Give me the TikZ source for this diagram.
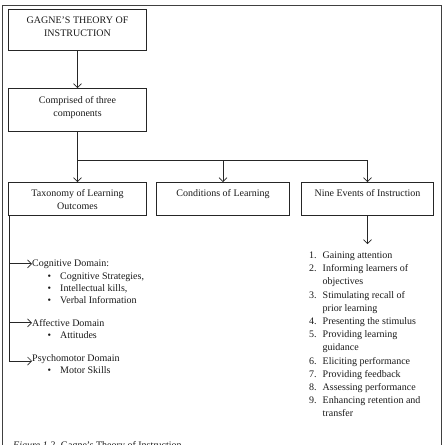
\documentclass[tikz,border=0pt]{standalone}
\usepackage{fontspec}
\setmainfont{Liberation Serif}
\usetikzlibrary{arrows.meta}
\begin{document}
\begin{tikzpicture}[x=1pt,y=-1pt,
  font=\fontsize{10}{13.2}\selectfont,
  every node/.style={text=black!90},
  box/.style={draw=black!85, line width=0.7pt, inner sep=0pt},
  txt/.style={inner sep=0pt, align=center},
  lbl/.style={inner sep=0pt, anchor=base west},
  arr/.style={draw=black!85, -{Straight Barb[length=4pt,width=8pt]}, line width=0.7pt},
  ln/.style={draw=black!85, line width=0.7pt}]
\useasboundingbox (0,0) rectangle (443,445);
\clip (0,0) rectangle (443,445);
% outer frame
\draw[draw=black!75, line width=0.9pt] (2,470) -- (2,5) -- (441,5) -- (441,470);
% boxes
\node[box, minimum width=138pt, minimum height=41pt] (b1) at (77.5,29.5) {};
\node[txt] (t1) at (77.5,26.7) {GAGNE'S THEORY OF\\INSTRUCTION};
\node[box, minimum width=138pt, minimum height=42.5pt] (b2) at (77.5,109.75) {};
\node[txt] (t2) at (77.5,107.3) {Comprised of three\\components};
\node[box, minimum width=137.5pt, minimum height=33pt] (bA) at (77.5,199) {};
\node[txt] (tA) at (77.5,199.7) {Taxonomy of Learning\\Outcomes};
\node[box, minimum width=132.6pt, minimum height=33pt] (bB) at (223,199) {};
\node[txt, anchor=base] (tB) at (223,196.5) {Conditions of Learning};
\node[box, minimum width=132.3pt, minimum height=33pt] (bC) at (367.5,199) {};
\node[txt, anchor=base] (tC) at (367.5,196.5) {Nine Events of Instruction};
% connectors
\draw[arr] (b1) -- (b2);
\coordinate (j) at (77.5,160.5);
\draw[ln] (b2.south) -- (j);
\draw[ln] (j) -- (j -| bC.north);
\draw[arr] (j) -- (bA.north);
\draw[arr] (j -| bB.north) -- (bB.north);
\draw[arr] (j -| bC.north) -- (bC.north);
% left list
\node[lbl] (cog) at (32,266) {Cognitive Domain:};
\node[lbl] (cs) at (60,279) {\llap{\textbullet\hspace{9pt}}Cognitive Strategies,};
\node[lbl] (ik) at (60,291.3) {\llap{\textbullet\hspace{9pt}}Intellectual kills,};
\node[lbl] (vi) at (60,303.6) {\llap{\textbullet\hspace{9pt}}Verbal Information};
\node[lbl] (aff) at (32,326.3) {Affective Domain};
\node[lbl] (att) at (60,338.6) {\llap{\textbullet\hspace{9pt}}Attitudes};
\node[lbl] (psy) at (32,361.5) {Psychomotor Domain};
\node[lbl] (ms) at (60,373.8) {\llap{\textbullet\hspace{9pt}}Motor Skills};
\coordinate (lt) at (9,215.5);
\coordinate (pe) at (9,361);
\draw[ln] (lt) -- (pe);
\draw[arr] (pe) -- (psy.west |- pe);
\draw[arr] (lt |- cog.west) -- (cog.west);
\draw[arr] (lt |- aff.west) -- (aff.west);
% right list
\coordinate (ct) at (367.5,244);
\draw[arr] (bC.south) -- (ct);
\node[inner sep=0pt, anchor=north west] (nine) at (309,249) {%
\begin{tabular}{@{}r@{\hspace{6pt}}l@{}}
1. & Gaining attention\\
2. & Informing learners of\\
   & objectives\\
3. & Stimulating recall of\\
   & prior learning\\
4. & Presenting the stimulus\\
5. & Providing learning\\
   & guidance\\
6. & Eliciting performance\\
7. & Providing feedback\\
8. & Assessing performance\\
9. & Enhancing retention and\\
   & transfer
\end{tabular}};
% caption
\node[lbl] (cap) at (13,448) {\textit{Figure 1.2.} Gagne's Theory of Instruction};
\end{tikzpicture}
\end{document}
